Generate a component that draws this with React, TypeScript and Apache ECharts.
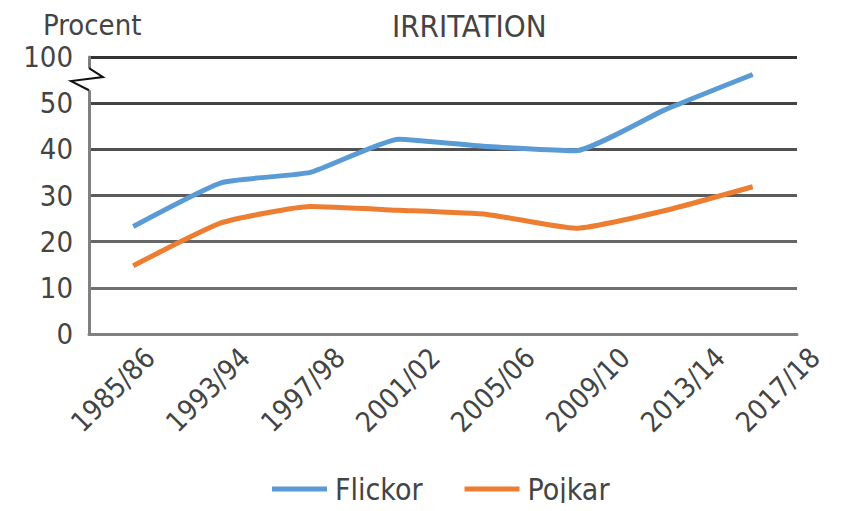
import React, { useEffect, useRef } from "react";
import * as echarts from "echarts";

const categories = ["1985/86", "1993/94", "1997/98", "2001/02", "2005/06", "2009/10", "2013/14", "2017/18"];
const flickor = [23.3, 32.8, 35.0, 42.2, 40.6, 39.7, 48.5, 56.2];
const pojkar = [14.8, 24.1, 27.6, 26.8, 25.9, 22.9, 26.7, 31.9];
const yTicks = [0, 10, 20, 30, 40, 50, 60];
const topLabel = "100";

const FONT = "'Liberation Sans Narrow', 'DejaVu Sans Condensed', Roboto, sans-serif";
const GRID_LEFT = 89;

export default function App() {
  const ref = useRef<HTMLDivElement>(null);
  useEffect(() => {
    if (!ref.current) return;
    const chart = echarts.init(ref.current, null, { renderer: "svg" });
    chart.setOption({
      animation: false,
      textStyle: { fontFamily: FONT },
      title: [
        { text: "Procent", left: 38, top: 5, textStyle: { fontFamily: FONT, fontSize: 29, fontWeight: "normal", color: "#444" } },
        { text: "IRRITATION", left: 387, top: 5, textStyle: { fontFamily: FONT, fontSize: 31, fontWeight: "normal", color: "#444" } },
      ],
      legend: {
        left: 272,
        top: 474,
        padding: 0,
        itemWidth: 55,
        itemHeight: 5,
        itemGap: 42,
        textStyle: { fontFamily: FONT, fontSize: 30, color: "#444", padding: [0, 0, 0, 3] },
        data: [
          { name: "Flickor", icon: "rect" },
          { name: "Pojkar", icon: "rect" },
        ],
      },
      grid: [
        { left: GRID_LEFT, right: 46, top: 57, bottom: 177 },
        { left: 150, right: 28, top: 57, bottom: 177 },
      ],
      xAxis: [
        {
          type: "category",
          gridIndex: 0,
          data: categories,
          boundaryGap: true,
          axisLine: { show: true, lineStyle: { color: "#808080", width: 3 } },
          axisTick: { show: false },
          axisLabel: { show: false },
          splitLine: { show: false },
        },
        {
          type: "category",
          gridIndex: 1,
          data: categories,
          boundaryGap: false,
          axisLine: { show: false },
          axisTick: { show: false },
          axisLabel: { rotate: 45, margin: 19, fontFamily: FONT, fontSize: 28, color: "#444", interval: 0 },
          splitLine: { show: false },
        },
      ],
      yAxis: [
        {
          type: "value",
          gridIndex: 0,
          min: 0,
          max: 60,
          interval: 10,
          axisLine: { show: true, lineStyle: { color: "#808080", width: 3 } },
          axisTick: { show: false },
          axisLabel: {
            margin: 16,
            fontFamily: FONT,
            fontSize: 29,
            color: "#444",
            formatter: (v: number) => (v === yTicks[yTicks.length - 1] ? topLabel : String(v)),
          },
          splitLine: {
            show: true,
            lineStyle: { width: 3, color: ["#808080", "#707070", "#666", "#5c5c5c", "#505050", "#444", "#333"] },
          },
        },
        { type: "value", gridIndex: 1, min: 0, max: 60, show: false },
      ],
      series: [
        {
          name: "Flickor",
          type: "line",
          xAxisIndex: 0,
          yAxisIndex: 0,
          data: flickor,
          smooth: 0.15,
          symbol: "none",
          lineStyle: { color: "#5b9bd5", width: 5 },
          itemStyle: { color: "#5b9bd5" },
          z: 5,
        },
        {
          name: "Pojkar",
          type: "line",
          xAxisIndex: 0,
          yAxisIndex: 0,
          data: pojkar,
          smooth: 0.15,
          symbol: "none",
          lineStyle: { color: "#ed7d31", width: 5 },
          itemStyle: { color: "#ed7d31" },
          z: 5,
        },
      ],
    });
    const yA = chart.convertToPixel({ yAxisIndex: 0 }, 57.6) as number;
    const yB = chart.convertToPixel({ yAxisIndex: 0 }, 52.8) as number;
    const x0 = GRID_LEFT;
    chart.setOption({
      graphic: [
        { type: "rect", z: 100, shape: { x: x0 - 3, y: yA, width: 6, height: yB - yA }, style: { fill: "#fff" } },
        {
          type: "polyline",
          z: 101,
          shape: { points: [[x0, yA], [x0 + 14, yA + 9], [x0 - 18, yA + 13], [x0, yB]] },
          style: { stroke: "#111", lineWidth: 2, fill: "none" },
        },
      ],
    });
    return () => chart.dispose();
  }, []);
  return <div ref={ref} style={{ width: 843, height: 511, margin: -8 }} />;
}
